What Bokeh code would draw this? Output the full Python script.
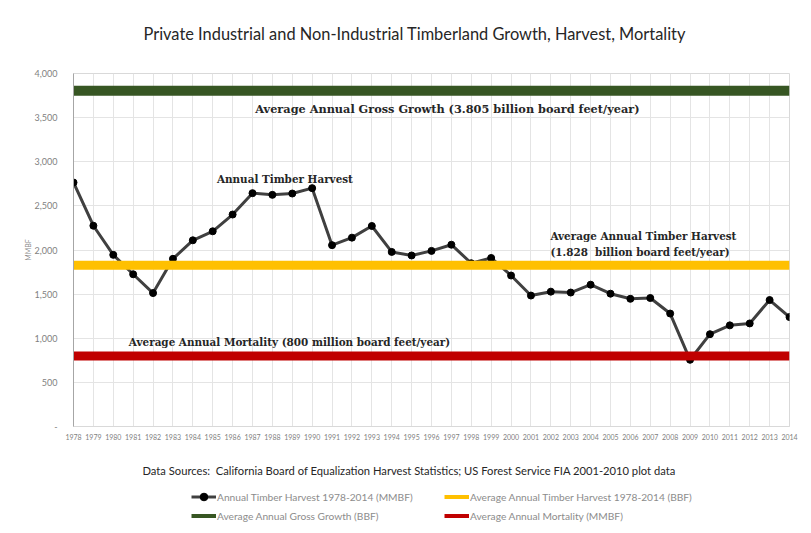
from bokeh.plotting import figure
from bokeh.layouts import column
from bokeh.models import Range1d, FixedTicker, Legend, LegendItem, Label
from bokeh.embed import file_html
from bokeh.resources import INLINE

# ---- data ----
years = list(range(1978, 2015))
harvest = [2765, 2275, 1945, 1725, 1512, 1900, 2110, 2212, 2402, 2644,
           2625, 2640, 2701, 2055, 2140, 2272, 1978, 1938, 1990, 2060,
           1850, 1910, 1711, 1484, 1528, 1518, 1607, 1505, 1447, 1456,
           1280, 756, 1046, 1146, 1168, 1433, 1240]
avg_harvest = 1828
avg_growth = 3805
avg_mortality = 800
y_ticks = [0, 500, 1000, 1500, 2000, 2500, 3000, 3500, 4000]
y_tick_labels = ["-", "500", "1,000", "1,500", "2,000", "2,500", "3,000", "3,500", "4,000"]

title_text = "Private Industrial and Non-Industrial Timberland Growth, Harvest, Mortality"
source_text = "Data Sources:\u00a0 California Board of Equalization Harvest Statistics; US Forest Service FIA 2001-2010 plot data"
series_names = ["Annual Timber Harvest 1978-2014 (MMBF)",
                "Average Annual Gross Growth (BBF)",
                "Average Annual Timber Harvest 1978-2014 (BBF)",
                "Average Annual Mortality (MMBF)"]

HARVEST_COLOR = "#404040"
YELLOW = "#FFC000"
GREEN = "#375623"
RED = "#C00000"


def draw_series(fig, band_width, growth_width, marker_size):
    hl = fig.line(years, harvest, line_color=HARVEST_COLOR, line_width=3)
    hp = fig.scatter(years, harvest, size=marker_size, fill_color="black", line_color="black")
    yl = fig.line(years, [avg_harvest] * len(years), line_color=YELLOW, line_width=band_width)
    gl = fig.line(years, [avg_growth] * len(years), line_color=GREEN, line_width=growth_width)
    rl = fig.line(years, [avg_mortality] * len(years), line_color=RED, line_width=band_width)
    return hl, hp, yl, gl, rl


def blank_panel(height):
    # a text-only strip whose frame is aligned with the chart frame (page x 73..789)
    fig = figure(width=805, height=height, output_backend="svg", toolbar_location=None,
                 x_range=Range1d(73, 789), y_range=Range1d(0, height),
                 min_border_left=0, min_border_right=0, min_border_top=0, min_border_bottom=0)
    fig.axis.visible = False
    fig.grid.visible = False
    fig.outline_line_color = None
    fig.background_fill_color = "white"
    fig.border_fill_color = "white"
    return fig


# ---- header ----
HEADER_H = 55
hdr = blank_panel(HEADER_H)
hdr.add_layout(Label(x=143, y=HEADER_H - 33, text=title_text, text_align="left", text_baseline="middle",
                     text_font="Lato", text_font_size="16.4px", text_color="#262626"))

# ---- main chart ----
p = figure(width=805, height=391, output_backend="svg", toolbar_location=None,
           x_range=Range1d(1978, 2014), y_range=Range1d(0, 4000),
           min_border_left=73, min_border_right=16, min_border_top=18, min_border_bottom=20)
p.background_fill_color = "white"
p.border_fill_color = "white"
p.outline_line_color = "#d9d9d9"

p.xaxis.ticker = FixedTicker(ticks=years)
p.yaxis.ticker = FixedTicker(ticks=y_ticks)
p.yaxis.major_label_overrides = {t: l for t, l in zip(y_ticks, y_tick_labels)}
for ax in (p.xaxis[0], p.yaxis[0]):
    ax.major_tick_line_color = None
    ax.minor_tick_line_color = None
    ax.major_label_text_font = "Lato"
    ax.major_label_text_color = "#7f7f7f"
p.xaxis.major_label_text_font_size = "7px"
p.yaxis.major_label_text_font_size = "9px"
p.xaxis.major_label_standoff = 1
p.yaxis.major_label_standoff = 10
p.xaxis.axis_line_color = "#d9d9d9"
p.yaxis.axis_line_color = "#a6a6a6"
p.yaxis.axis_label = "MMBF"
p.yaxis.axis_label_text_font = "Lato"
p.yaxis.axis_label_text_font_style = "normal"
p.yaxis.axis_label_text_font_size = "7px"
p.yaxis.axis_label_text_color = "#8c8c8c"
p.yaxis.axis_label_standoff = 0

p.xgrid.grid_line_color = "#e4e4e4"
p.ygrid.grid_line_color = "#e4e4e4"

draw_series(p, band_width=9, growth_width=10, marker_size=7)

ann_style = dict(text_font="DejaVu Serif", text_font_style="bold",
                 text_color="#262626", text_baseline="middle")
p.add_layout(Label(x=1996.8, y=3603, text="Average Annual Gross Growth (3.805 billion board feet/year)",
                   text_align="center", text_font_size="11.3px", **ann_style))
p.add_layout(Label(x=1988.63, y=2810, text="Annual Timber Harvest", text_align="center",
                   text_font_size="10.4px", **ann_style))
p.add_layout(Label(x=2001.98, y=2153, text="Average Annual Timber Harvest", text_align="left",
                   text_font_size="10.4px", **ann_style))
p.add_layout(Label(x=2001.98, y=1983, text="(1.828\u00a0 billion board feet/year)", text_align="left",
                   text_font_size="10.4px", **ann_style))
p.add_layout(Label(x=1988.86, y=955, text="Average Annual Mortality (800 million board feet/year)",
                   text_align="center", text_font_size="10.4px", **ann_style))

# ---- footer: source note and legend ----
FOOTER_H = 85
f = blank_panel(FOOTER_H)
# same series drawn in the footer (outside its visible range) so the legend can show their glyphs
hl, hp, yl, gl, rl = draw_series(f, band_width=4, growth_width=4, marker_size=6)

f.add_layout(Label(x=142, y=FOOTER_H - 24, text=source_text, text_align="left", text_baseline="middle",
                   text_font="Lato", text_font_size="11.2px", text_color="#262626"))

leg_style = dict(label_text_font="Lato", label_text_font_size="10.2px", label_text_color="#8c8c8c",
                 glyph_width=25, glyph_height=19, label_height=19, label_standoff=1,
                 padding=0, margin=0, spacing=0, border_line_color=None, background_fill_alpha=0)
leg1 = Legend(items=[LegendItem(label=series_names[0], renderers=[hl, hp]),
                     LegendItem(label=series_names[1], renderers=[gl])],
              location=(118, 6), **leg_style)
leg2 = Legend(items=[LegendItem(label=series_names[2], renderers=[yl]),
                     LegendItem(label=series_names[3], renderers=[rl])],
              location=(371, 6), **leg_style)
f.add_layout(leg1)
f.add_layout(leg2)

layout = column(hdr, p, f, spacing=0)
open("out.html", "w").write(file_html(layout, INLINE))
